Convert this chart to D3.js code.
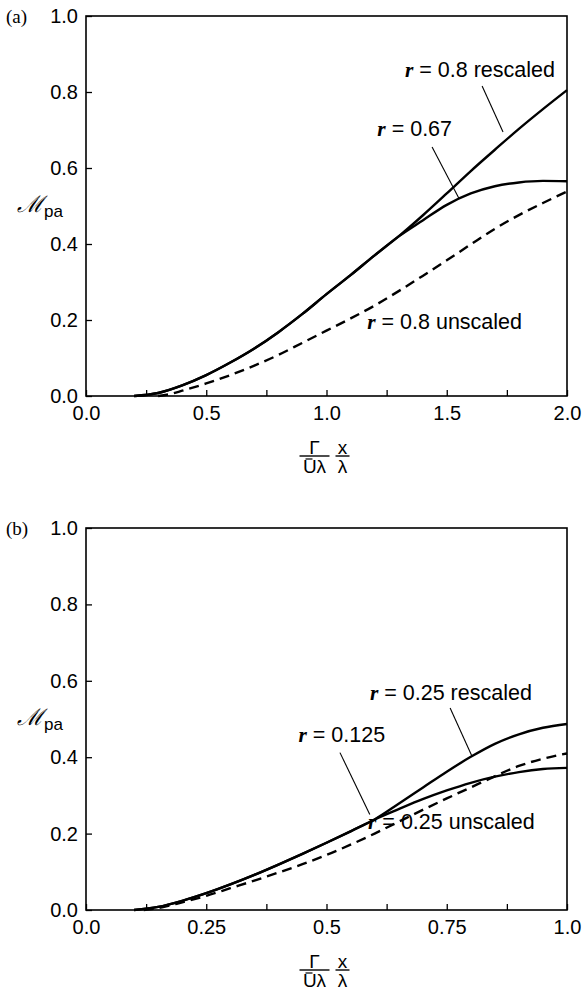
<html>
<head>
<script src="https://d3js.org/d3.v7.min.js"></script>
<style>
  body { margin: 0; background: #fff; }
</style>
</head>
<body>
<svg width="583" height="991"></svg>
<script>
// ---- panel (a) data ----
var xTickValsA = [0, 0.5, 1.0, 1.5, 2.0];
var xTickLabelsA = ["0.0", "0.5", "1.0", "1.5", "2.0"];
var xCommonA = [0.2, 0.3, 0.4, 0.5, 0.6, 0.7, 0.8, 0.9, 1.0, 1.1, 1.2, 1.3];
var yCommonA = [0, 0.008, 0.028, 0.055, 0.088, 0.125, 0.168, 0.216, 0.268, 0.318, 0.37, 0.42];
var xTailA = [1.4, 1.5, 1.6, 1.7, 1.8, 1.9, 2.0];
var yRescaledA = [0.475, 0.533, 0.592, 0.648, 0.703, 0.755, 0.805];
var y067A = [0.462, 0.503, 0.533, 0.552, 0.562, 0.566, 0.565];
var xUnscaledA = [0.3, 0.35, 0.4, 0.5, 0.6, 0.7, 0.8, 0.9, 1.0, 1.1, 1.2, 1.3, 1.4, 1.5, 1.6, 1.7, 1.8, 1.9, 2.0];
var yUnscaledA = [0, 0.005, 0.014, 0.033, 0.055, 0.08, 0.108, 0.14, 0.172, 0.204, 0.238, 0.276, 0.316, 0.357, 0.399, 0.44, 0.476, 0.508, 0.538];

// ---- panel (b) data ----
var xTickValsB = [0, 0.25, 0.5, 0.75, 1.0];
var xTickLabelsB = ["0.0", "0.25", "0.5", "0.75", "1.0"];
var xCommonB = [0.1, 0.15, 0.2, 0.25, 0.3, 0.35, 0.4, 0.45, 0.5, 0.55, 0.6];
var yCommonB = [0, 0.008, 0.024, 0.044, 0.067, 0.092, 0.119, 0.147, 0.176, 0.206, 0.237];
var xTailB = [0.65, 0.7, 0.75, 0.8, 0.85, 0.9, 0.95, 1.0];
var yRescaledB = [0.278, 0.32, 0.362, 0.401, 0.435, 0.46, 0.477, 0.487];
var y0125B = [0.264, 0.29, 0.313, 0.333, 0.349, 0.361, 0.369, 0.372];
var xUnscaledB = [0.12, 0.15, 0.2, 0.25, 0.3, 0.35, 0.4, 0.45, 0.5, 0.55, 0.6, 0.65, 0.7, 0.75, 0.8, 0.85, 0.9, 0.95, 1.0];
var yUnscaledB = [0, 0.005, 0.02, 0.037, 0.057, 0.077, 0.098, 0.12, 0.144, 0.171, 0.2, 0.231, 0.262, 0.292, 0.321, 0.35, 0.377, 0.396, 0.41];

// shared y ticks
var yTickVals = [0, 0.2, 0.4, 0.6, 0.8, 1.0];
var yTickLabels = ["0.0", "0.2", "0.4", "0.6", "0.8", "1.0"];

var SANS = "'Liberation Sans', Arial, Helvetica, sans-serif";
var SERIF = "'Liberation Serif', 'Times New Roman', serif";

var svg = d3.select("svg");

function zip(xs, ys) { return xs.map(function (x, i) { return [x, ys[i]]; }); }

function drawPanel(p) {
  var g = svg.append("g");
  var x = d3.scaleLinear().domain([0, p.xMax]).range([p.left, p.right]);
  var y = d3.scaleLinear().domain([0, 1]).range([p.bottom, p.top]);

  // minor ticks (every eighth of the axis), inward, no labels
  var minor = d3.range(0, 9).map(function (i) { return i * p.xMax / 8; });
  g.append("g").attr("transform", "translate(0," + p.bottom + ")")
    .call(d3.axisBottom(x).tickValues(minor).tickSize(-6).tickFormat(""))
    .call(function (s) { s.select(".domain").remove(); s.selectAll("line").attr("stroke-width", 1.3); });

  // x labels
  var xa = g.append("g").attr("transform", "translate(0," + p.bottom + ")")
    .call(d3.axisBottom(x).tickValues(p.xTicks).tickSize(0).tickPadding(10)
      .tickFormat(function (d, i) { return p.xLabels[i]; }));
  xa.select(".domain").remove();
  xa.attr("font-size", 20).attr("font-family", SANS);

  // y axis
  var ya = g.append("g").attr("transform", "translate(" + p.left + ",0)")
    .call(d3.axisLeft(y).tickValues(yTickVals).tickSize(-6).tickPadding(8)
      .tickFormat(function (d, i) { return yTickLabels[i]; }));
  ya.select(".domain").remove();
  ya.selectAll("line").attr("stroke-width", 1.3);
  ya.attr("font-size", 20).attr("font-family", SANS);

  // frame
  g.append("rect").attr("x", p.left).attr("y", p.top)
    .attr("width", p.right - p.left).attr("height", p.bottom - p.top)
    .attr("fill", "none").attr("stroke", "#000").attr("stroke-width", 1.6);

  var line = d3.line().x(function (d) { return x(d[0]); }).y(function (d) { return y(d[1]); })
    .curve(d3.curveMonotoneX);

  p.series.forEach(function (s) {
    g.append("path").datum(s.pts).attr("d", line)
      .attr("fill", "none").attr("stroke", "#000").attr("stroke-width", 2.4)
      .attr("stroke-dasharray", s.dash ? "10,6" : null)
      .attr("stroke-linejoin", "round");
  });

  // annotations
  p.notes.forEach(function (n) {
    var t = g.append("text").attr("x", x(n.x)).attr("y", y(n.y))
      .attr("text-anchor", "end").attr("font-size", 21.5).attr("font-family", SANS);
    t.append("tspan").attr("font-family", SERIF).attr("font-style", "italic")
      .attr("font-weight", "bold").text("r");
    t.append("tspan").text(" = " + n.text);
    if (n.lead) {
      g.append("line").attr("x1", x(n.lead[0])).attr("y1", y(n.lead[1]))
        .attr("x2", x(n.lead[2])).attr("y2", y(n.lead[3]))
        .attr("stroke", "#000").attr("stroke-width", 1.1);
    }
  });

  // panel tag
  g.append("text").attr("x", 6).attr("y", p.top + 7).attr("font-family", SERIF)
    .attr("font-size", 19).text(p.tag);

  // y label  Mpa
  var yl = g.append("text").attr("x", 17).attr("y", y(0.5) + 6)
    .attr("font-size", 23);
  yl.append("tspan").attr("font-family", SERIF).attr("font-style", "italic").text("\u2133");
  yl.append("tspan").attr("font-family", SANS).attr("font-size", 17).attr("dy", 5).text("pa");

  // x label: Γ/(Ūλ) x/λ
  var cx = (p.left + p.right) / 2;
  var ly = p.bottom + 58;
  var xl = g.append("g").attr("font-family", SANS).attr("font-size", 19);
  xl.append("text").attr("x", cx - 12).attr("y", ly).attr("text-anchor", "middle").text("\u0393");
  xl.append("text").attr("x", cx - 12).attr("y", ly + 19).attr("text-anchor", "middle").text("U\u03bb");
  xl.append("line").attr("x1", cx - 21).attr("x2", cx - 14).attr("y1", ly + 5).attr("y2", ly + 5)
    .attr("stroke", "#000").attr("stroke-width", 1.2);
  xl.append("line").attr("x1", cx - 27).attr("x2", cx + 3).attr("y1", ly + 2).attr("y2", ly + 2)
    .attr("stroke", "#000").attr("stroke-width", 1.4);
  xl.append("text").attr("x", cx + 16).attr("y", ly).attr("text-anchor", "middle").text("x");
  xl.append("text").attr("x", cx + 16).attr("y", ly + 19).attr("text-anchor", "middle").text("\u03bb");
  xl.append("line").attr("x1", cx + 9).attr("x2", cx + 23).attr("y1", ly + 2).attr("y2", ly + 2)
    .attr("stroke", "#000").attr("stroke-width", 1.4);
}

var commonA = zip(xCommonA, yCommonA);
drawPanel({
  tag: "(a)", xMax: 2, left: 86, right: 567, top: 16, bottom: 396,
  xTicks: xTickValsA, xLabels: xTickLabelsA,
  series: [
    { pts: commonA.concat(zip(xTailA, yRescaledA)) },
    { pts: commonA.concat(zip(xTailA, y067A)) },
    { pts: zip(xUnscaledA, yUnscaledA), dash: true }
  ],
  notes: [
    { text: "0.8 rescaled", x: 1.95, y: 0.839, lead: [1.647, 0.816, 1.734, 0.695] },
    { text: "0.67", x: 1.522, y: 0.684, lead: [1.439, 0.655, 1.551, 0.52] },
    { text: "0.8 unscaled", x: 1.813, y: 0.176 }
  ]
});

var commonB = zip(xCommonB, yCommonB);
drawPanel({
  tag: "(b)", xMax: 1, left: 86, right: 567, top: 528, bottom: 910,
  xTicks: xTickValsB, xLabels: xTickLabelsB,
  series: [
    { pts: commonB.concat(zip(xTailB, yRescaledB)) },
    { pts: commonB.concat(zip(xTailB, y0125B)) },
    { pts: zip(xUnscaledB, yUnscaledB), dash: true }
  ],
  notes: [
    { text: "0.25 rescaled", x: 0.927, y: 0.55, lead: [0.757, 0.529, 0.802, 0.404] },
    { text: "0.125", x: 0.622, y: 0.44, lead: [0.528, 0.412, 0.59, 0.25] },
    { text: "0.25 unscaled", x: 0.933, y: 0.212 }
  ]
});
</script>
</body>
</html>
